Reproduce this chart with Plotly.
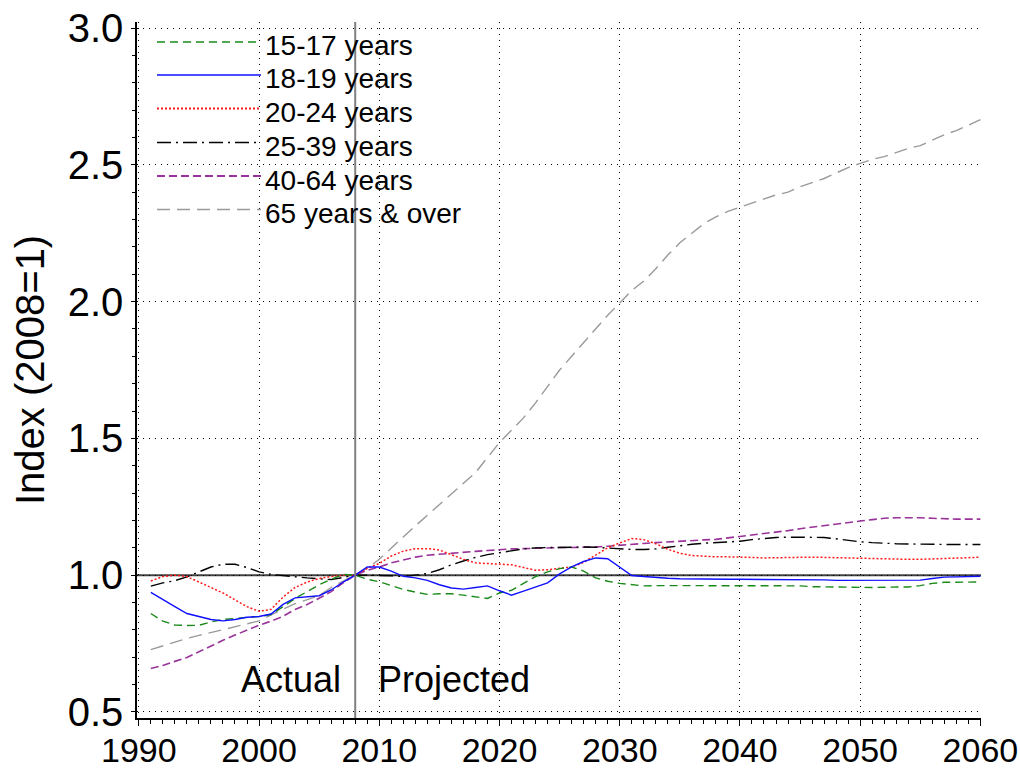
import plotly.graph_objects as go

# ---------------- data ----------------
years = list(range(1991, 2061))

age_15_17 = [
    0.860, 0.832, 0.818, 0.816, 0.817, 0.829, 0.838, 0.843, 0.846, 0.849,
    0.856, 0.885, 0.915, 0.940, 0.965, 0.985, 1.003, 1.000, 0.985, 0.976,
    0.962, 0.948, 0.938, 0.930, 0.932, 0.932, 0.927, 0.920, 0.915, 0.935,
    0.945, 0.970, 0.995, 1.012, 1.024, 1.030, 1.015, 0.990, 0.978, 0.970,
    0.965, 0.961, 0.962, 0.962, 0.962, 0.962, 0.962, 0.962, 0.962, 0.962,
    0.962, 0.962, 0.962, 0.962, 0.961, 0.958, 0.957, 0.956, 0.955, 0.955,
    0.955, 0.956, 0.956, 0.957, 0.962, 0.970, 0.974, 0.974, 0.974, 0.975,
]
age_18_19 = [
    0.937, 0.910, 0.885, 0.860, 0.848, 0.838, 0.833, 0.838, 0.846, 0.849,
    0.858, 0.893, 0.917, 0.920, 0.925, 0.946, 0.975, 1.000, 1.030, 1.030,
    1.015, 0.996, 0.990, 0.981, 0.965, 0.953, 0.949, 0.955, 0.961, 0.943,
    0.927, 0.942, 0.958, 0.972, 1.005, 1.030, 1.050, 1.063, 1.060, 1.030,
    0.999, 0.995, 0.991, 0.989, 0.987, 0.986, 0.985, 0.985, 0.985, 0.985,
    0.985, 0.985, 0.985, 0.985, 0.985, 0.984, 0.983, 0.981, 0.981, 0.981,
    0.981, 0.981, 0.981, 0.981, 0.982, 0.988, 0.993, 0.994, 0.995, 0.996,
]
age_20_24 = [
    0.979, 0.995, 1.000, 0.995, 0.975, 0.955, 0.935, 0.910, 0.885, 0.868,
    0.875, 0.920, 0.955, 0.975, 0.988, 0.995, 1.000, 1.000, 1.025, 1.043,
    1.070, 1.088, 1.097, 1.097, 1.092, 1.075, 1.058, 1.045, 1.042, 1.040,
    1.038, 1.028, 1.018, 1.020, 1.024, 1.030, 1.047, 1.075, 1.100, 1.118,
    1.134, 1.130, 1.115, 1.095, 1.080, 1.072, 1.069, 1.067, 1.067, 1.067,
    1.065, 1.063, 1.064, 1.066, 1.066, 1.066, 1.065, 1.064, 1.063, 1.062,
    1.060, 1.058, 1.058, 1.058, 1.058, 1.059, 1.060, 1.062, 1.064, 1.066,
]
age_25_39 = [
    0.960, 0.972, 0.980, 0.994, 1.012, 1.030, 1.040, 1.040, 1.028, 1.012,
    1.003, 0.998, 0.994, 0.990, 0.987, 0.984, 0.992, 1.000, 1.000, 1.000,
    0.998, 0.995, 1.000, 1.006, 1.020, 1.038, 1.052, 1.065, 1.075, 1.082,
    1.090, 1.096, 1.100, 1.101, 1.102, 1.103, 1.103, 1.102, 1.099, 1.097,
    1.094, 1.094, 1.096, 1.102, 1.108, 1.113, 1.117, 1.120, 1.122, 1.124,
    1.130, 1.135, 1.138, 1.139, 1.139, 1.139, 1.138, 1.133, 1.127, 1.122,
    1.119, 1.116, 1.115, 1.114, 1.113, 1.113, 1.112, 1.112, 1.112, 1.112,
]
age_40_64 = [
    0.659, 0.670, 0.685, 0.699, 0.720, 0.742, 0.762, 0.781, 0.800, 0.817,
    0.832, 0.850, 0.875, 0.893, 0.916, 0.940, 0.972, 1.000, 1.018, 1.030,
    1.045, 1.056, 1.066, 1.073, 1.077, 1.081, 1.084, 1.087, 1.090, 1.094,
    1.096, 1.097, 1.099, 1.100, 1.101, 1.101, 1.101, 1.103, 1.106, 1.110,
    1.113, 1.116, 1.119, 1.122, 1.125, 1.127, 1.129, 1.131, 1.136, 1.141,
    1.147, 1.152, 1.157, 1.163, 1.170, 1.176, 1.182, 1.187, 1.193, 1.198,
    1.203, 1.208, 1.210, 1.211, 1.210, 1.208, 1.206, 1.205, 1.205, 1.205,
]
age_65_over = [
    0.728, 0.742, 0.756, 0.769, 0.780, 0.790, 0.801, 0.812, 0.822, 0.833,
    0.856, 0.876, 0.896, 0.910, 0.925, 0.955, 0.978, 1.000, 1.025, 1.058,
    1.100, 1.140, 1.180, 1.220, 1.258, 1.297, 1.336, 1.375, 1.430, 1.485,
    1.530, 1.575, 1.630, 1.690, 1.750, 1.800, 1.850, 1.900, 1.950, 1.995,
    2.040, 2.075, 2.120, 2.170, 2.215, 2.250, 2.285, 2.310, 2.330, 2.345,
    2.360, 2.375, 2.390, 2.400, 2.420, 2.435, 2.450, 2.470, 2.490, 2.505,
    2.520, 2.530, 2.545, 2.560, 2.570, 2.590, 2.610, 2.625, 2.645, 2.665,
]

series_names = ["15-17 years", "18-19 years", "20-24 years",
                "25-39 years", "40-64 years", "65 years & over"]
series_values = [age_15_17, age_18_19, age_20_24, age_25_39, age_40_64, age_65_over]

x_tick_values = [1990, 2000, 2010, 2020, 2030, 2040, 2050, 2060]
y_tick_values = [0.5, 1.0, 1.5, 2.0, 2.5, 3.0]
y_tick_labels = ["0.5", "1.0", "1.5", "2.0", "2.5", "3.0"]
base_year = 2008
base_index = 1.0

# ---------------- styles ----------------
colors = ["#1a8a1a", "#1010ff", "#ff1a1a", "#000000", "#993399", "#9a9a9a"]
dashes = ["8px,5px", "solid", "2px,2px", "14px,5px,2px,5px", "8px,4px", "13px,7px"]
widths = [1.4, 1.4, 1.5, 1.4, 1.6, 1.4]

FONT = "Liberation Sans, Arial, sans-serif"

fig = go.Figure()

draw_order = [5, 4, 3, 2, 0, 1]
for i in draw_order:
    fig.add_trace(go.Scatter(
        x=years, y=series_values[i], name=series_names[i], mode="lines",
        line=dict(color=colors[i], dash=dashes[i], width=widths[i]),
        showlegend=False,
    ))

# plot area geometry (pixels) for paper-coordinate helpers
L, R, T, B = 137, 981, 22, 718
PW, PH = R - L, B - T


def px_x(px):
    return (px - L) / PW


def px_y(py):
    return (B - py) / PH


shapes = []
# reference line at index = 1
shapes.append(dict(type="line", xref="paper", x0=0, x1=1, yref="y",
                   y0=base_index, y1=base_index,
                   line=dict(color="#404040", width=2), layer="below"))
# vertical divider actual / projected
shapes.append(dict(type="line", xref="x", x0=base_year, x1=base_year,
                   yref="paper", y0=0, y1=1,
                   line=dict(color="#808080", width=2), layer="above"))

annotations = []
# custom legend (long line samples)
legend_rows_px = [42, 75, 108.5, 142.5, 176, 209.5]
for k, i in enumerate(range(6)):
    ly = legend_rows_px[k]
    shapes.append(dict(type="line", xref="paper", yref="paper",
                       x0=px_x(157), x1=px_x(261), y0=px_y(ly), y1=px_y(ly),
                       line=dict(color=colors[i], dash=dashes[i], width=widths[i] + 0.3)))
    annotations.append(dict(xref="paper", yref="paper", x=px_x(263), y=px_y(ly + 4),
                            text=series_names[i], showarrow=False,
                            xanchor="left", yanchor="middle",
                            font=dict(family=FONT, size=28, color="#000")))

annotations.append(dict(xref="x", yref="y", x=2007.0, y=0.62, text="Actual",
                        showarrow=False, xanchor="right", yanchor="middle",
                        font=dict(family=FONT, size=36, color="#000")))
annotations.append(dict(xref="x", yref="y", x=2009.7, y=0.62, text="Projected",
                        showarrow=False, xanchor="left", yanchor="middle",
                        font=dict(family=FONT, size=36, color="#000")))
# y-axis title
annotations.append(dict(xref="paper", yref="paper", x=px_x(30), y=0.5,
                        text="Index (2008=1)", textangle=-90, showarrow=False,
                        xanchor="center", yanchor="middle",
                        font=dict(family=FONT, size=40, color="#000")))

grid_dash = "1px,5px"

fig.update_layout(
    template=None,
    width=1020, height=771,
    margin=dict(l=L, r=1020 - R, t=T, b=771 - B, pad=0, autoexpand=False),
    paper_bgcolor="white", plot_bgcolor="white",
    font=dict(family=FONT, color="#000"),
    shapes=shapes, annotations=annotations,
    showlegend=False,
    xaxis=dict(
        automargin=False,
        range=[1989.85, 2060.05], tickmode="array", tickvals=x_tick_values,
        ticks="outside", ticklen=6, tickwidth=1.3, tickcolor="#000",
        minor=dict(dtick=1, tick0=1990, ticks="outside", ticklen=4,
                   tickwidth=1, tickcolor="#000", showgrid=False),
        showgrid=True, gridcolor="#000", gridwidth=1, griddash=grid_dash,
        showline=True, linecolor="#000", linewidth=2, zeroline=False,
        ticklabeloverflow="allow", ticklabelstandoff=-5,
        tickfont=dict(family=FONT, size=34, color="#000"),
    ),
    yaxis=dict(
        automargin=False,
        range=[0.478, 3.022], tickmode="array", tickvals=y_tick_values,
        ticktext=y_tick_labels,
        ticks="outside", ticklen=4, tickwidth=1.3, tickcolor="#000",
        minor=dict(dtick=0.1, tick0=0.5, ticks="outside", ticklen=3,
                   tickwidth=1, tickcolor="#000", showgrid=False),
        showgrid=True, gridcolor="#000", gridwidth=1, griddash=grid_dash,
        showline=True, linecolor="#000", linewidth=1.5, zeroline=False,
        ticklabeloverflow="allow",
        tickfont=dict(family=FONT, size=40, color="#000"),
    ),
)

fig.write_html("out.html",
               config={"displayModeBar": False},
               post_script="document.body.style.margin='0';document.body.style.overflow='hidden';")
